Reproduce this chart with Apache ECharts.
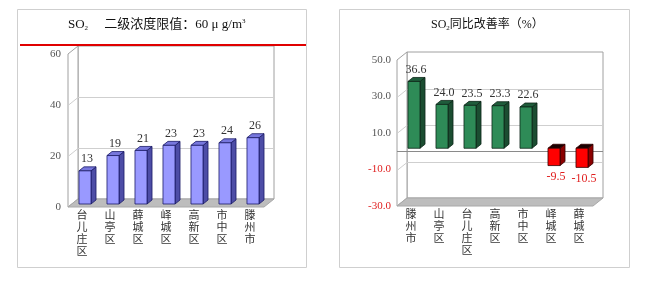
<!DOCTYPE html>
<html><head><meta charset="utf-8">
<script src="https://cdn.jsdelivr.net/npm/echarts@6/dist/echarts.min.js"></script>
<style>html,body{margin:0;padding:0;background:#fff}#c{width:645px;height:294px}</style>
</head><body><div id="c"></div>
<script>
// ---- data ----
const leftCategories = ['台儿庄区','山亭区','薛城区','峄城区','高新区','市中区','滕州市'];
const leftValues = [13, 19, 21, 23, 23, 24, 26];
const leftTicks = [0, 20, 40, 60];
const leftLimit = 60;
const rightCategories = ['滕州市','山亭区','台儿庄区','高新区','市中区','峄城区','薛城区'];
const rightValues = [36.6, 24.0, 23.5, 23.3, 22.6, -9.5, -10.5];
const rightTicks = [-30, -10, 10, 30, 50];

const FONT = "'Liberation Serif','DejaVu Serif','Noto Sans CJK SC',serif";
const DX = 10, DY = -8;

function frameRender(ticks, opts) {
  return function (params, api) {
    const cs = params.coordSys;
    const L = cs.x, R = cs.x + cs.width, T = cs.y, B = cs.y + cs.height;
    const ch = [];
    ch.push({type:'polygon', shape:{points:[[L+DX,T+DY],[R+DX,T+DY],[R+DX,B+DY],[L+DX,B+DY]]},
      style:{fill:'#fff', stroke:'#a0a0a0', lineWidth:1}});
    ch.push({type:'polygon', shape:{points:[[L,T],[L+DX,T+DY],[L+DX,B+DY],[L,B]]},
      style:{fill:'#fff', stroke:'#a0a0a0', lineWidth:1}});
    ticks.forEach(t => {
      if (t === ticks[0] || t === ticks[ticks.length-1]) return;
      const y = Math.round(api.coord([0, t])[1] + DY) + 0.5;
      ch.push({type:'line', shape:{x1:L+DX, y1:y, x2:R+DX, y2:y}, style:{stroke:'#cfcfcf', lineWidth:1}});
      ch.push({type:'line', shape:{x1:L, y1:y-DY, x2:L+DX, y2:y}, style:{stroke:'#cfcfcf', lineWidth:1}});
    });
    ch.push({type:'polygon', shape:{points:[[L,B],[R,B],[R+DX,B+DY],[L+DX,B+DY]]},
      style:{fill:'#bdbdbd', stroke:'#a8a8a8', lineWidth:1}});
    if (opts.zero) {
      const y = Math.round(api.coord([0, 0])[1]) + 0.5;
      ch.push({type:'line', shape:{x1:L, y1:y, x2:R+DX, y2:y}, style:{stroke:'#8a8a8a', lineWidth:1}});
    }
    if (opts.limit != null) {
      const y = api.coord([0, opts.limit])[1] + DY - 1;
      ch.push({type:'line', shape:{x1:opts.x1, y1:y, x2:opts.x2, y2:y}, style:{stroke:'#e00000', lineWidth:2}});
    }
    return {type:'group', children: ch};
  };
}

function barRender(pal, fmt, labelColor) {
  return function (params, api) {
    const i = api.value(0), v = api.value(1);
    const p0 = api.coord([i, 0]), p1 = api.coord([i, v]);
    const band = api.size([1, 0])[0];
    const w = band * 0.43;
    const x0 = p0[0] - w/2 + 3, x1 = x0 + w;
    const yb = p0[1] - 3, yt = p1[1] - 3;
    const top = Math.min(yb, yt), bot = Math.max(yb, yt);
    const bx = 5, by = -4;
    const c = v >= 0 ? pal.pos : pal.neg;
    const ch = [
      {type:'polygon', shape:{points:[[x1,top],[x1+bx,top+by],[x1+bx,bot+by],[x1,bot]]}, style:{fill:c.side, stroke:c.line, lineWidth:0.8}},
      {type:'polygon', shape:{points:[[x0,top],[x0+bx,top+by],[x1+bx,top+by],[x1,top]]}, style:{fill:c.top, stroke:c.line, lineWidth:0.8}},
      {type:'rect', shape:{x:x0, y:top, width:w, height:bot-top}, style:{fill:c.front, stroke:c.line, lineWidth:0.8}},
      {type:'text', x:(x0+x1)/2 + 2, y: v >= 0 ? top + by - 2 : bot + 5,
        style:{text: fmt(v), fill: labelColor(v), font: '12px ' + FONT, align:'center', verticalAlign: v >= 0 ? 'bottom' : 'top'}}
    ];
    return {type:'group', children: ch};
  };
}

const catLabel = (s) => s.split('').join('\n');

const chart = echarts.init(document.getElementById('c'), null, {renderer:'canvas'});
chart.setOption({
  animation: false,
  backgroundColor: '#fff',
  textStyle: {fontFamily: FONT},
  graphic: [
    {type:'rect', shape:{x:17.5, y:9.5, width:289, height:258}, style:{fill:'none', stroke:'#cfcfcf', lineWidth:1}, z:-10},
    {type:'rect', shape:{x:339.5, y:9.5, width:290, height:258}, style:{fill:'none', stroke:'#cfcfcf', lineWidth:1}, z:-10},
    {type:'text', x:68, y:25, style:{
      text:'{a|SO}{s|2}{a|     二级浓度限值：60 μ g/m}{p|3}',
      verticalAlign:'middle',
      rich:{a:{fontSize:13, fontFamily:FONT, fill:'#111'}, s:{fontSize:7, fontFamily:FONT, fill:'#111', padding:[6,0,0,0]}, p:{fontSize:7, fontFamily:FONT, fill:'#111', padding:[0,0,8,0]}}
    }},
    {type:'text', x:431, y:25, style:{
      text:'{a|SO}{s|2}{a|同比改善率（%）}',
      verticalAlign:'middle',
      rich:{a:{fontSize:12, fontFamily:FONT, fill:'#111'}, s:{fontSize:7, fontFamily:FONT, fill:'#111', padding:[6,0,0,0]}}
    }}
  ],
  grid: [
    {left:68, right:381, top:54, bottom:87},
    {left:397, right:52, top:60, bottom:88}
  ],
  xAxis: [
    {gridIndex:0, type:'category', data:leftCategories, axisLine:{show:false}, axisTick:{show:false},
      axisLabel:{interval:0, formatter:catLabel, fontSize:11, lineHeight:12, margin:3, color:'#333', fontFamily:FONT}},
    {gridIndex:1, type:'category', data:rightCategories, axisLine:{show:false}, axisTick:{show:false},
      axisLabel:{interval:0, formatter:catLabel, fontSize:11, lineHeight:12, margin:3, color:'#333', fontFamily:FONT}}
  ],
  yAxis: [
    {gridIndex:0, type:'value', min:leftTicks[0], max:leftTicks[leftTicks.length-1], interval:20,
      axisLine:{show:false}, axisTick:{show:false}, splitLine:{show:false},
      axisLabel:{fontSize:11, margin:7, color:'#555', fontFamily:FONT}},
    {gridIndex:1, type:'value', min:rightTicks[0], max:rightTicks[rightTicks.length-1], interval:20,
      axisLine:{show:false}, axisTick:{show:false}, splitLine:{show:false},
      axisLabel:{fontSize:11, margin:6, fontFamily:FONT, formatter:(v)=>v.toFixed(1),
        color:(v)=> (Number(v) < 0 ? '#e02020' : '#555')}}
  ],
  series: [
    {type:'custom', xAxisIndex:0, yAxisIndex:0, z:1, data:[[0,0]], silent:true,
      renderItem: frameRender(leftTicks, {limit:leftLimit, x1:20, x2:306})},
    {type:'custom', xAxisIndex:0, yAxisIndex:0, z:3,
      data: leftValues.map((v,i)=>[i,v]),
      renderItem: barRender({pos:{front:'#9999ff', side:'#4d4da6', top:'#7777dd', line:'#1a1a66'}, neg:{front:'#9999ff', side:'#4d4da6', top:'#7777dd', line:'#1a1a66'}},
        (v)=>String(v), ()=> '#333')},
    {type:'custom', xAxisIndex:1, yAxisIndex:1, z:1, data:[[0,0]], silent:true,
      renderItem: frameRender(rightTicks, {zero:true})},
    {type:'custom', xAxisIndex:1, yAxisIndex:1, z:3,
      data: rightValues.map((v,i)=>[i,v]),
      renderItem: barRender({pos:{front:'#2e8b57', side:'#1b4d31', top:'#1f5c3b', line:'#0d2618'}, neg:{front:'#ff0000', side:'#8b0000', top:'#1a0000', line:'#330000'}},
        (v)=>v.toFixed(1), (v)=> v < 0 ? '#e02020' : '#333')}
  ]
});
</script>
</body></html>
